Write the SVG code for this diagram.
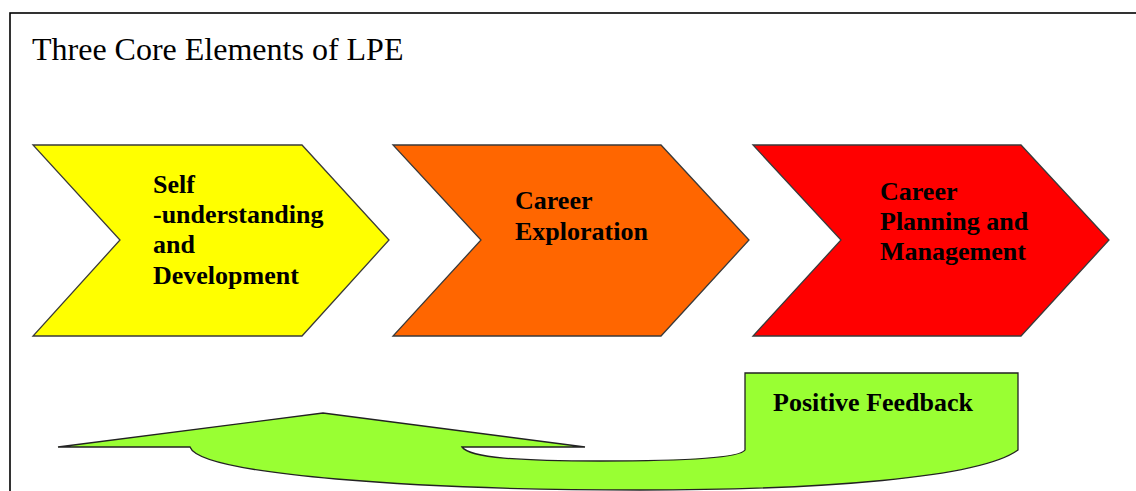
<svg xmlns="http://www.w3.org/2000/svg" width="1136" height="491" viewBox="0 0 1136 491">
<style>
.chev{stroke:#3a3a3a;stroke-width:1.3;stroke-linejoin:miter}
.lbl{font-family:"Liberation Serif","Times New Roman",serif;font-weight:bold;font-size:26px;fill:#000}
.title{font-family:"Liberation Serif","Times New Roman",serif;font-size:32px;fill:#000}
</style>
<rect width="1136" height="491" fill="#fff"/>
<rect id="frame" x="10" y="13" width="1200" height="600" fill="none" stroke="#000" stroke-width="1.6"/>
<text class="title" x="32" y="60">Three Core Elements of LPE</text>
<g id="self-understanding">
<polygon class="chev" fill="#FFFF00" points="33,145 302,145 389,240 302,336 33,336 120,240"/>
<text class="lbl" x="153" y="193">Self</text>
<text class="lbl" x="153" y="223">-understanding</text>
<text class="lbl" x="153" y="253">and</text>
<text class="lbl" x="153" y="284">Development</text>
</g>
<g id="career-exploration">
<polygon class="chev" fill="#FF6600" points="393,145 661,145 749,240 661,336 393,336 481,240"/>
<text class="lbl" x="515" y="209">Career</text>
<text class="lbl" x="515" y="240">Exploration</text>
</g>
<g id="career-planning">
<polygon class="chev" fill="#FF0000" points="753,145 1021,145 1109,240 1021,336 753,336 841,240"/>
<text class="lbl" x="880" y="200">Career</text>
<text class="lbl" x="880" y="230">Planning and</text>
<text class="lbl" x="880" y="260">Management</text>
</g>
<g id="connectors">
<g id="positive-feedback">
<path fill="#99FF33" stroke="#222" stroke-width="1.3" d="M 745,450 L 745,373 L 1018,373 L 1018,450 C 980,478 820,490 640,490 C 420,490 200,475 190,447 L 58,447 L 323,413 L 585,447 L 462,447 C 470,458 520,461 600,461 C 680,461 740,458 745,450 Z"/>
<text class="lbl" x="773" y="411">Positive Feedback</text>
</g>
</g>
</svg>
